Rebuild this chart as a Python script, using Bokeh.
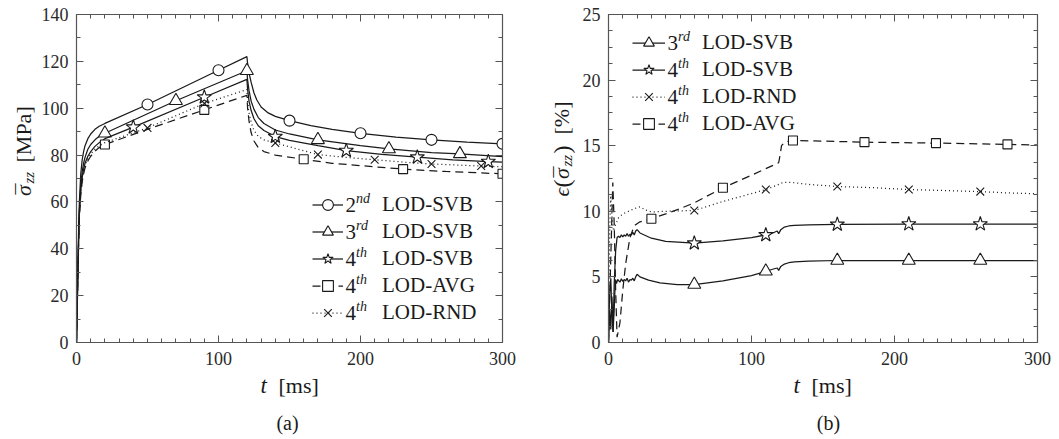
import math
from bokeh.plotting import figure
from bokeh.layouts import row, column
from bokeh.models import (Range1d, LinearAxis, SingleIntervalTicker, Label,
                          Legend, LegendItem, CustomJSTickFormatter)
from bokeh.embed import file_html
from bokeh.resources import INLINE

# ---------------- (a) mean axial stress [MPa] vs time [ms] ----------------
t_a_2nd = [0, 0.5, 1, 1.5, 2, 3, 4, 5, 6, 8, 10, 13, 16, 20, 50, 100, 120, 120.5, 121.5, 123, 125,
           127, 130, 135, 140, 150, 165, 180, 200, 225, 250, 275, 300]
s_a_2nd = [0, 16, 33, 48, 60, 72, 78, 81.5, 84, 87, 89, 91, 92.3, 93.5, 101.6, 116.2, 122, 119, 115,
           111, 106.5, 103.5, 100.5, 98, 96.5, 94.7, 92.6, 91, 89.3, 87.7, 86.5, 85.5, 84.8]
mk_t_a_2nd = [50, 100, 150, 200, 250, 300]
mk_s_a_2nd = [101.6, 116.2, 94.7, 89.3, 86.5, 84.8]

t_a_3rd = [0, 0.5, 1, 1.5, 2, 3, 4, 5, 6, 8, 10, 13, 16, 20, 70, 120, 120.5, 121.5, 123, 125, 128,
           132, 140, 150, 170, 200, 220, 250, 270, 300]
s_a_3rd = [0, 15, 31, 45, 56, 67, 73, 76.5, 79, 82.5, 84.5, 86.5, 88, 89.3, 103.2, 116, 112, 107.5,
           103, 99.5, 96, 93.5, 90.7, 89, 86.5, 84, 82.6, 81, 80.5, 79.3]
mk_t_a_3rd = [20, 70, 120, 170, 220, 270]
mk_s_a_3rd = [89.3, 103.2, 116, 86.5, 82.6, 80.5]

t_a_svb4 = [0, 0.5, 1, 1.5, 2, 3, 4, 5, 6, 8, 10, 13, 16, 20, 40, 90, 120, 120.5, 121.5, 123, 125,
            128, 132, 140, 150, 170, 190, 215, 240, 265, 290, 300]
s_a_svb4 = [0, 15, 30, 44, 55, 65, 70.5, 74, 76.5, 79.5, 81.5, 83.7, 85.3, 87, 91.9, 104.7, 112.3,
            108, 103, 99, 95.5, 92.5, 90.5, 87.9, 86.3, 84, 81.9, 80.3, 79.1, 78, 77.2, 77]
mk_t_a_svb4 = [40, 90, 140, 190, 240, 290]
mk_s_a_svb4 = [91.9, 104.7, 87.9, 81.9, 79.1, 77.2]

t_a_avg4 = [0, 0.5, 1, 1.5, 2, 3, 4, 5, 6, 8, 10, 13, 16, 20, 50, 90, 120, 120.5, 121.5, 123, 125,
            128, 132, 140, 160, 180, 200, 230, 260, 300]
s_a_avg4 = [0, 14, 29, 42, 53, 63, 68.5, 72, 74.5, 77.5, 79.5, 81.7, 83.2, 84.5, 91, 99.3, 105.5,
            100, 94.5, 89.5, 86, 83.2, 81.5, 80, 78.2, 76.5, 75.5, 74, 73, 72]
mk_t_a_avg4 = [20, 90, 160, 230, 300]
mk_s_a_avg4 = [84.5, 99.3, 78.2, 74, 72]

t_a_rnd4 = [0, 0.5, 1, 1.5, 2, 3, 4, 5, 6, 8, 10, 13, 16, 20, 50, 90, 120, 120.5, 121.5, 123, 125,
            128, 132, 140, 150, 170, 190, 210, 230, 250, 285, 300]
s_a_rnd4 = [0, 14.5, 29.5, 43, 54, 64, 69.5, 73, 75.5, 78.5, 80.5, 82.5, 84, 85.3, 91.6, 102, 108,
            103, 98, 94, 90.5, 88, 86.5, 85.2, 83.5, 80.2, 79, 78, 77, 76.2, 75.3, 75]
mk_t_a_rnd4 = [50, 90, 140, 170, 210, 250, 285]
mk_s_a_rnd4 = [91.6, 102, 85.2, 80.2, 78, 76.2, 75.3]

# ---------------- (b) relative error of the mean stress [%] ----------------
t_b_3rd = [0, 0.8, 1.6, 2.4, 3.2, 4.0, 4.8, 5.6, 6.4, 8, 9, 10, 11, 12, 13, 14, 15, 16, 17, 18, 19,
           20, 22, 28, 36, 48, 60, 80, 100, 110, 116, 118, 119, 120.5, 123, 126, 130, 140, 160,
           210, 260, 300]
e_b_3rd = [0, 3.7, 4.9, 2.2, 0.8, 2.6, 4.8, 4.5, 4.8, 4.6, 4.85, 4.65, 4.8, 4.7, 4.9, 4.6, 4.8,
           4.75, 4.9, 4.7, 5.0, 5.2, 5.0, 4.75, 4.55, 4.42, 4.42, 4.7, 5.1, 5.43, 5.62, 5.68, 5.5,
           5.8, 5.98, 6.08, 6.15, 6.2, 6.25, 6.25, 6.25, 6.25]
mk_t_b_3rd = [60, 110, 160, 210, 260]
mk_e_b_3rd = [4.42, 5.43, 6.25, 6.25, 6.25]

t_b_svb4 = [0, 0.8, 1.6, 2.4, 3.2, 4.0, 5.0, 6.0, 7, 8, 9, 10, 11, 12, 13, 14, 15, 16, 17, 18, 19,
            20, 22, 30, 40, 60, 80, 100, 110, 116, 118, 119, 120.5, 123, 126, 130, 140, 160, 210,
            260, 300]
e_b_svb4 = [0, 2.5, 1.0, 3.5, 0.8, 4.5, 7.0, 8.0, 8.1, 8.0, 8.2, 8.05, 8.2, 8.1, 8.3, 8.1, 8.25,
            8.2, 8.4, 8.2, 8.5, 8.6, 8.35, 7.95, 7.7, 7.57, 7.75, 8.0, 8.2, 8.4, 8.5, 8.3, 8.6, 8.8,
            8.88, 8.93, 8.97, 9.0, 9.03, 9.03, 9.03]
mk_t_b_svb4 = [60, 110, 160, 210, 260]
mk_e_b_svb4 = [7.57, 8.2, 9.0, 9.03, 9.03]

t_b_rnd4 = [0, 0.7, 1.5, 2.5, 3.5, 5, 7, 10, 14, 18, 22, 26, 30, 40, 60, 80, 100, 110, 118, 122,
            128, 140, 160, 185, 210, 235, 260, 280, 300]
e_b_rnd4 = [0, 8, 11.2, 9.5, 8.5, 9.0, 9.5, 9.8, 10.0, 10.2, 10.35, 10.1, 9.95, 10.0, 10.06, 10.75,
            11.35, 11.66, 12.0, 12.2, 12.2, 12.05, 11.89, 11.8, 11.66, 11.58, 11.5, 11.4, 11.33]
mk_t_b_rnd4 = [60, 110, 160, 210, 260]
mk_e_b_rnd4 = [10.06, 11.66, 11.89, 11.66, 11.5]

t_b_avg4 = [0, 1.5, 3, 4, 5, 6, 8, 10, 12, 15, 18, 22, 30, 40, 50, 60, 80, 100, 119, 120, 121, 123,
            126, 129, 150, 179, 229, 279, 300]
e_b_avg4 = [0, 6, 12.2, 9, 4, 0.4, 1.5, 4, 6, 8, 8.9, 9.2, 9.43, 9.8, 10.2, 10.65, 11.79, 12.75,
            13.7, 14.3, 15.0, 15.25, 15.35, 15.4, 15.35, 15.27, 15.2, 15.1, 15.05]
mk_t_b_avg4 = [30, 80, 129, 179, 229, 279]
mk_e_b_avg4 = [9.43, 11.79, 15.4, 15.27, 15.2, 15.1]

# ---------------- styling ----------------
INK = "#1a1a1a"
AXIS = "#555555"
FONT = "Liberation Serif"
LW = 1.25
PLOT_H = 374          # height of each chart (frame 328 + borders)
CAPTION_H = 439 - PLOT_H
UP = math.pi / 2      # rotation for the vertical axis titles

DASH = {"solid": "solid", "dashed": "8 5", "dotted": "1 3"}
MARK = {"circle": 11, "triangle": 13, "star": 15, "square": 9, "x": 11}


def make_panel(y_end, y_step, y_minor, b_left, f_w, b_right):
    p = figure(frame_width=f_w, frame_height=328,
               x_range=Range1d(0, 300), y_range=Range1d(0, y_end),
               x_axis_type=None, y_axis_type=None,
               min_border_left=b_left, min_border_right=b_right,
               min_border_top=14, min_border_bottom=PLOT_H - 14 - 328,
               output_backend="svg", toolbar_location=None,
               background_fill_color="white", border_fill_color="white")
    p.outline_line_color = None
    for side in ("below", "left", "above", "right"):
        if side in ("below", "above"):
            tk = SingleIntervalTicker(interval=100, num_minor_ticks=10)
        else:
            tk = SingleIntervalTicker(interval=y_step, num_minor_ticks=y_minor)
        ax = LinearAxis(ticker=tk)
        ax.axis_line_color = AXIS
        ax.axis_line_width = 1.2
        ax.major_tick_line_color = AXIS
        ax.minor_tick_line_color = AXIS
        ax.major_tick_in = 7
        ax.major_tick_out = 0
        ax.minor_tick_in = 4
        ax.minor_tick_out = 0
        ax.major_label_text_font = FONT
        ax.major_label_text_font_size = "18px"
        ax.major_label_text_color = "#2a2a2a"
        if side in ("above", "right"):
            ax.formatter = CustomJSTickFormatter(code="return ''")
            ax.major_label_standoff = 0
        elif side == "below":
            ax.major_label_standoff = 9
        else:
            ax.major_label_standoff = 8
        p.add_layout(ax, side)
    return p


def text_box(width, height):
    """Blank drawing area used for the axis titles and captions."""
    b = figure(width=width, height=height, x_range=Range1d(0, 1), y_range=Range1d(0, 1),
               x_axis_type=None, y_axis_type=None, min_border=0,
               output_backend="svg", toolbar_location=None,
               background_fill_color="white", border_fill_color="white")
    b.outline_line_color = None
    b.xgrid.visible = False
    b.ygrid.visible = False
    return b


def series(p, t, v, mt, mv, dash, marker):
    ln = p.line(t, v, line_color=INK, line_width=LW, line_dash=DASH[dash])
    sc = p.scatter(mt, mv, marker=marker, size=MARK[marker], line_color=INK,
                   line_width=1.1, fill_color="white")
    return [ln, sc]


def note(p, text, x, y, size, italic=False, angle=0.0, align="left"):
    p.add_layout(Label(x=x, y=y, x_units="screen", y_units="screen", text=text,
                       text_font=FONT, text_font_size=f"{size}px",
                       text_font_style="italic" if italic else "normal",
                       text_color=INK, angle=angle, text_align=align,
                       text_baseline="middle"))


def sigma_bar(p, x, yc, size):
    """Italic sigma with an overbar, written bottom-to-top."""
    note(p, "σ", x, yc, size, italic=True, angle=UP, align="center")
    note(p, "¯", x, yc + 1.5, size, angle=UP, align="center")


def legend(p, entries, loc, glyph_w, rows_y, num_x, standoff):
    items = [LegendItem(label=name, renderers=rends) for rends, num, sup, name in entries]
    lg = Legend(items=items, location=loc, glyph_width=glyph_w, glyph_height=27,
                label_height=27, spacing=0, padding=0, margin=0,
                label_standoff=standoff,
                label_text_font=FONT, label_text_font_size="21px",
                label_text_color=INK, border_line_color=None,
                background_fill_alpha=0)
    p.add_layout(lg)
    for (rends, num, sup, name), yc in zip(entries, rows_y):
        note(p, num, num_x, yc, 21)
        note(p, sup, num_x + 10.5, yc + 7, 14, italic=True)


# ---------------- panel (a) ----------------
pa = make_panel(140, 20, 2, 38, 426, 28)
ra_2nd = series(pa, t_a_2nd, s_a_2nd, mk_t_a_2nd, mk_s_a_2nd, "solid", "circle")
ra_3rd = series(pa, t_a_3rd, s_a_3rd, mk_t_a_3rd, mk_s_a_3rd, "solid", "triangle")
ra_svb = series(pa, t_a_svb4, s_a_svb4, mk_t_a_svb4, mk_s_a_svb4, "solid", "star")
ra_avg = series(pa, t_a_avg4, s_a_avg4, mk_t_a_avg4, mk_s_a_avg4, "dashed", "square")
ra_rnd = series(pa, t_a_rnd4, s_a_rnd4, mk_t_a_rnd4, mk_s_a_rnd4, "dotted", "x")

legend(pa, [(ra_2nd, "2", "nd", "LOD-SVB"),
            (ra_3rd, "3", "rd", "LOD-SVB"),
            (ra_svb, "4", "th", "LOD-SVB"),
            (ra_avg, "4", "th", "LOD-AVG"),
            (ra_rnd, "4", "th", "LOD-RND")],
       (236, 16), 31, [137.5, 110.5, 83.5, 56.5, 29.5], 269, 39)

ya = text_box(38, PLOT_H)
sigma_bar(ya, 23, 152, 22)
note(ya, "zz", 28, 159, 15, italic=True, angle=UP)
note(ya, "[MPa]", 23, 180, 22, angle=UP)

xa = text_box(530, CAPTION_H)
note(xa, "t", 260, 54, 23, italic=True)
note(xa, "[ms]", 278, 54, 22)
note(xa, "(a)", 287, 17, 20, align="center")

# ---------------- panel (b) ----------------
pb = make_panel(25, 5, 4, 32, 429, 22)
rb_3rd = series(pb, t_b_3rd, e_b_3rd, mk_t_b_3rd, mk_e_b_3rd, "solid", "triangle")
rb_svb = series(pb, t_b_svb4, e_b_svb4, mk_t_b_svb4, mk_e_b_svb4, "solid", "star")
rb_rnd = series(pb, t_b_rnd4, e_b_rnd4, mk_t_b_rnd4, mk_e_b_rnd4, "dotted", "x")
rb_avg = series(pb, t_b_avg4, e_b_avg4, mk_t_b_avg4, mk_e_b_avg4, "dashed", "square")

legend(pb, [(rb_3rd, "3", "rd", "LOD-SVB"),
            (rb_svb, "4", "th", "LOD-SVB"),
            (rb_rnd, "4", "th", "LOD-RND"),
            (rb_avg, "4", "th", "LOD-AVG")],
       (24, 205), 33, [299.5, 272.5, 245.5, 218.5], 59, 37)

yb = text_box(46, PLOT_H)
note(yb, "ϵ", 31, 146, 22, italic=True, angle=UP)
note(yb, "(", 31, 155, 24, angle=UP)
sigma_bar(yb, 31, 169, 22)
note(yb, "zz", 36, 176, 15, italic=True, angle=UP)
note(yb, ")", 31, 189, 24, angle=UP)
note(yb, "[%]", 31, 208, 22, angle=UP)

xb = text_box(529, CAPTION_H)
note(xb, "t", 263, 54, 23, italic=True)
note(xb, "[ms]", 281, 54, 22)
note(xb, "(b)", 298, 17, 20, align="center")

layout = row(column(row(ya, pa), xa), column(row(yb, pb), xb))
open("out.html", "w").write(file_html(layout, INLINE))
